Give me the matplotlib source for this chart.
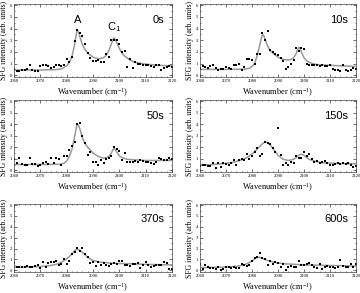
import matplotlib
matplotlib.use("Agg")
import matplotlib.pyplot as plt
from matplotlib.ticker import MultipleLocator

plt.rcParams['font.family'] = ['Liberation Serif', 'DejaVu Serif']
plt.rcParams['mathtext.default'] = 'regular'

wn = list(range(2060, 2121))

labels = ["0s", "10s", "50s", "150s", "370s", "600s"]

pts_0s = [0.5, 0.35, 0.4, 0.45, 0.45, 0.5, 0.9, 0.45, 0.4, 0.35,
          0.75, 0.9, 0.85, 0.8, 0.65, 0.7, 0.85, 0.9, 0.8, 0.85,
          1.35, 1.15, 1.55, 2.95, 3.9, 3.6, 3.4, 2.7, 1.9, 1.5,
          1.2, 1.25, 1.3, 1.1, 1.1, 1.8, 1.6, 3.0, 3.05, 3.0,
          2.7, 2.0, 2.1, 0.7, 1.4, 0.65, 1.1, 1.0, 0.95, 0.9,
          0.9, 0.85, 0.8, 0.7, 0.9, 0.85, 0.45, 0.6, 0.7, 0.75, 0.7]
pts_10s = [0.65, 0.75, 0.7, 0.65, 0.8, 0.85, 0.6, 0.45, 0.55, 0.5,
           0.7, 0.65, 0.55, 0.9, 0.9, 0.95, 0.45, 0.7, 1.35, 1.4,
           1.3, 1.0, 1.8, 1.85, 3.6, 3.0, 3.8, 2.2, 1.95, 1.85,
           1.7, 1.5, 1.25, 0.55, 0.7, 1.0, 1.3, 2.3, 2.1, 2.3,
           2.25, 1.0, 0.9, 0.85, 0.9, 0.85, 0.8, 0.85, 0.75, 0.8,
           0.9, 0.5, 0.45, 0.45, 0.4, 0.85, 0.45, 0.4, 0.45, 0.65, 0.55]
pts_50s = [0.95, 0.6, 1.1, 0.55, 0.5, 0.5, 1.05, 0.55, 0.55, 0.35,
           0.45, 0.6, 0.7, 0.55, 1.1, 0.6, 1.05, 0.95, 0.5, 1.2,
           1.2, 1.75, 2.15, 2.45, 4.0, 4.1, 3.0, 2.4, 1.3, 1.6,
           0.75, 0.7, 0.45, 0.85, 0.65, 1.0, 1.05, 1.25, 2.0, 1.85,
           1.7, 0.85, 1.5, 0.75, 0.7, 0.75, 0.8, 0.75, 0.85, 0.8,
           0.75, 0.7, 0.6, 0.55, 0.75, 1.05, 1.0, 0.9, 0.9, 1.1, 0.95]
pts_150s = [0.4, 0.45, 0.45, 0.4, 0.35, 0.6, 0.2, 0.65, 0.25, 0.6,
            0.55, 0.5, 0.6, 0.85, 0.5, 0.9, 0.95, 0.85, 1.4, 1.0,
            1.25, 1.6, 1.95, 1.2, 1.4, 2.45, 2.4, 2.3, 1.9, 1.6,
            3.7, 1.3, 0.5, 0.6, 0.45, 0.7, 0.6, 1.2, 1.05, 1.1,
            1.55, 1.2, 1.4, 1.0, 0.75, 0.8, 0.6, 0.7, 0.8, 0.6,
            0.5, 0.5, 0.55, 0.6, 0.55, 0.6, 0.55, 0.65, 0.5, 0.3, 0.4]
pts_370s = [0.7, 0.3, 0.3, 0.35, 0.35, 0.4, 0.35, 0.35, 0.4, 0.45,
            0.25, 0.75, 0.3, 0.65, 0.8, 0.8, 0.9, 0.5, 0.6, 1.0,
            0.55, 0.85, 1.5, 1.7, 2.1, 1.8, 2.1, 1.55, 1.2, 0.65,
            0.75, 0.4, 0.75, 0.45, 0.7, 0.45, 0.4, 0.6, 0.65, 0.55,
            0.9, 0.85, 0.5, 0.45, 0.4, 0.6, 0.6, 0.65, 0.25, 0.5,
            0.8, 0.45, 0.35, 0.4, 0.5, 0.45, 0.5, 0.8, 0.65, 0.15, 0.1]
pts_600s = [0.55, 0.1, 0.45, 0.3, 0.2, 0.25, 0.15, 0.3, 0.05, 0.15,
            0.3, 0.35, 0.2, 0.3, 0.2, 0.25, 0.55, 0.45, 0.4, 0.5,
            0.85, 1.15, 1.2, 1.6, 1.1, 1.0, 0.5, 0.85, 0.6, 0.75,
            0.65, 0.3, 0.6, 0.05, 0.3, 0.4, 0.35, 0.3, 0.85, 0.45,
            0.5, 0.55, 0.65, 0.45, 0.35, 0.2, 0.6, 0.15, 0.3, 0.4,
            0.35, 0.3, 0.25, 0.35, 0.95, 0.4, 0.35, 0.3, 0.55, 0.35, 0.6]

# fitted curves
fit_x_0s = [2060, 2070, 2076, 2078, 2080, 2081, 2082, 2083, 2083.5, 2084, 2084.5, 2085, 2086, 2087, 2088, 2090, 2092,
            2094, 2095, 2096, 2097, 2097.5, 2098, 2098.5, 2099, 2100, 2101, 2102, 2104, 2106, 2110, 2115, 2120]
fit_y_0s = [0.45, 0.45, 0.48, 0.55, 0.8, 1.1, 1.6, 2.6, 3.3, 3.9, 3.7, 3.3, 2.6, 2.2, 1.9, 1.55, 1.4,
            1.5, 1.7, 2.1, 2.7, 3.05, 3.2, 3.05, 2.8, 2.3, 1.9, 1.65, 1.3, 1.1, 0.95, 0.85, 0.8]
fit_x_10s = [2060, 2070, 2077, 2079, 2080, 2081, 2082, 2083, 2083.5, 2084, 2084.5, 2085, 2086, 2087, 2088, 2090, 2092,
             2094, 2095, 2096, 2097, 2097.5, 2098, 2098.5, 2099, 2100, 2101, 2102, 2104, 2106, 2110, 2115, 2120]
fit_y_10s = [0.5, 0.5, 0.52, 0.6, 0.75, 1.0, 1.7, 2.6, 3.1, 3.5, 3.4, 3.1, 2.5, 2.1, 1.9, 1.55, 1.35,
             1.3, 1.35, 1.5, 1.85, 2.2, 2.4, 2.3, 2.0, 1.5, 1.25, 1.1, 0.95, 0.9, 0.85, 0.8, 0.75]
fit_x_50s = [2060, 2070, 2077, 2079, 2080, 2081, 2082, 2083, 2083.5, 2084, 2084.5, 2085, 2086, 2087, 2088, 2090, 2092,
             2094, 2095, 2096, 2097, 2097.5, 2098, 2098.5, 2099, 2100, 2101, 2103, 2106, 2110, 2115, 2120]
fit_y_50s = [0.5, 0.5, 0.52, 0.6, 0.8, 1.2, 1.8, 2.9, 3.5, 4.0, 3.9, 3.6, 2.8, 2.3, 2.0, 1.5, 1.2,
             1.05, 1.1, 1.2, 1.5, 1.75, 1.9, 1.8, 1.6, 1.25, 1.1, 0.95, 0.9, 0.85, 0.85, 0.85]
fit_x_150s = [2060, 2065, 2070, 2073, 2076, 2078, 2080, 2082, 2084, 2085, 2086, 2087, 2088, 2090, 2092, 2094,
              2096, 2097, 2098, 2099, 2100, 2101, 2102, 2104, 2107, 2112, 2120]
fit_y_150s = [0.45, 0.5, 0.6, 0.7, 0.9, 1.1, 1.4, 1.85, 2.3, 2.45, 2.4, 2.2, 1.9, 1.3, 0.95, 0.85,
              0.95, 1.1, 1.3, 1.4, 1.3, 1.1, 0.95, 0.8, 0.65, 0.6, 0.55]
fit_x_370s = [2060, 2070, 2074, 2076, 2078, 2080, 2082, 2083, 2084, 2085, 2086, 2088, 2090, 2093, 2098, 2105, 2110, 2120]
fit_y_370s = [0.3, 0.35, 0.45, 0.55, 0.75, 1.05, 1.5, 1.8, 1.95, 1.85, 1.65, 1.2, 0.9, 0.75, 0.65, 0.6, 0.55, 0.5]
fit_x_600s = [2060, 2070, 2074, 2076, 2078, 2080, 2081, 2082, 2083, 2084, 2085, 2086, 2088, 2090, 2093, 2100, 2110, 2120]
fit_y_600s = [0.25, 0.3, 0.38, 0.45, 0.6, 0.85, 1.05, 1.2, 1.2, 1.1, 1.0, 0.9, 0.78, 0.68, 0.6, 0.5, 0.45, 0.4]

points = [pts_0s, pts_10s, pts_50s, pts_150s, pts_370s, pts_600s]
fits = [(fit_x_0s, fit_y_0s), (fit_x_10s, fit_y_10s), (fit_x_50s, fit_y_50s),
        (fit_x_150s, fit_y_150s), (fit_x_370s, fit_y_370s), (fit_x_600s, fit_y_600s)]

W, H = 360, 293
fig = plt.figure(figsize=(W / 100, H / 100), dpi=100)

cols = [(14, 172), (200, 356)]
rows = [(4, 77), (100, 172), (204, 272)]

for i in range(6):
    r, c = divmod(i, 2)
    x0, x1 = cols[c]
    y0, y1 = rows[r]
    ax = fig.add_axes([x0 / W, 1 - y1 / H, (x1 - x0) / W, (y1 - y0) / H])
    fx, fy = fits[i]
    ax.plot(fx, fy, color='#999999', lw=1.1, zorder=1)
    ax.scatter(wn, points[i], s=3.5, marker='s', color='black', lw=0, zorder=2)
    ax.set_xlim(2060, 2120)
    ax.set_ylim(-0.15, 6.1)
    ax.set_xticks(range(2060, 2121, 10))
    ax.set_yticks(range(0, 7))
    ax.xaxis.set_minor_locator(MultipleLocator(2))
    ax.yaxis.set_minor_locator(MultipleLocator(0.5))
    ax.tick_params(which='both', direction='in', top=True, right=True,
                   labelsize=3.3, pad=1.2, width=0.4)
    ax.tick_params(which='major', length=2)
    ax.tick_params(which='minor', length=1)
    for s in ax.spines.values():
        s.set_linewidth(0.5)
        s.set_color('#444444')
    ax.set_xlabel('Wavenumber (cm$^{-1}$)', fontsize=6, labelpad=3)
    ax.set_ylabel('SFG intensity (arb. units)', fontsize=5.6, labelpad=1.2)
    ax.text(0.95, 0.78, labels[i], transform=ax.transAxes, ha='right', va='center',
            fontsize=8, family=['Liberation Sans', 'DejaVu Sans'])
    if i == 0:
        ax.text(2084, 4.75, 'A', ha='center', va='center', fontsize=8,
                family=['Liberation Sans', 'DejaVu Sans'])
        ax.text(2098, 4.1, 'C$_1$', ha='center', va='center', fontsize=8,
                family=['Liberation Sans', 'DejaVu Sans'])

fig.savefig('out.png', dpi=100)
